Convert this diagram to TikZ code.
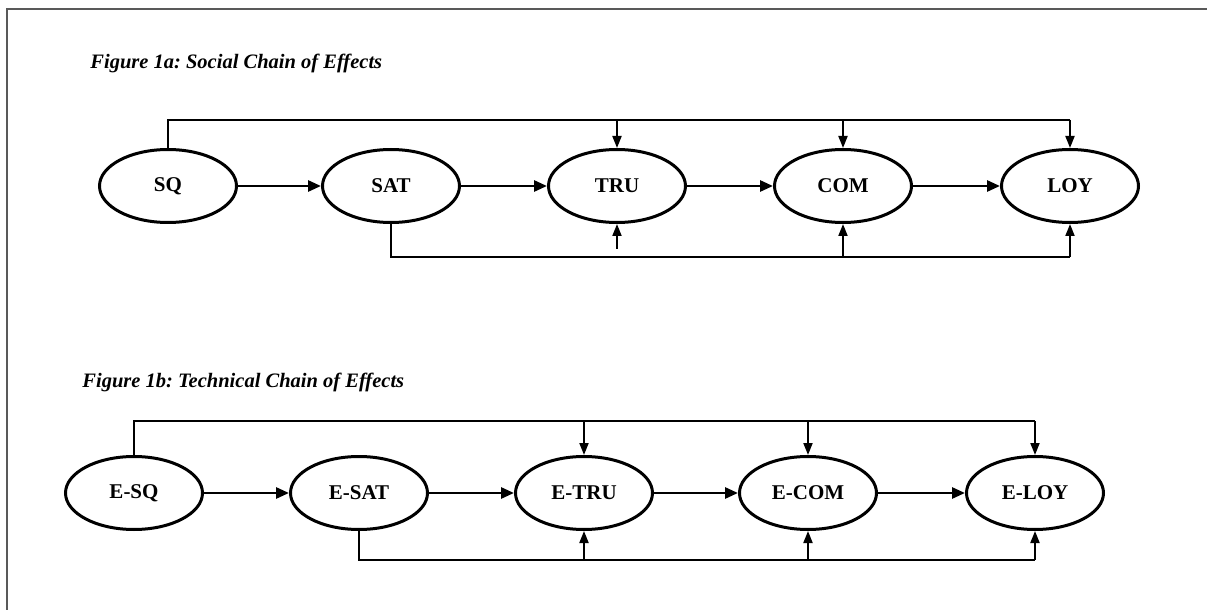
\documentclass[tikz,border=0pt]{standalone}
\usepackage{fontspec}
\setmainfont{Liberation Serif}
\usetikzlibrary{arrows.meta,shapes.geometric}
\frenchspacing
\begin{document}
\begin{tikzpicture}[x=0.5pt,y=-0.5pt,
  ell/.style={draw,ellipse,line width=1.5pt,minimum width=68.5pt,minimum height=36.5pt,inner sep=0pt,
    font=\bfseries\fontsize{10.5}{12}\selectfont},
  mainarrow/.style={line width=1.4pt,-{Triangle[length=6.5pt,width=5.5pt]}},
  fbline/.style={line width=0.9pt},
  fbarrow/.style={line width=0.9pt,-{Triangle[length=6pt,width=4.5pt]}},
  ttl/.style={anchor=base west,inner sep=0pt,font=\bfseries\itshape\fontsize{10.25}{12}\selectfont},
  frame/.style={draw=black!65,line width=1pt}]
\useasboundingbox (0,0) rectangle (1207,610);
% frame
\draw[frame] (7,610) -- (7,9) -- (1207,9);
% titles
\node[ttl] (t1) at (90,69) {Figure 1a: Social Chain of Effects};
\node[ttl] (t2) at (82,387) {Figure 1b: Technical Chain of Effects};
% row 1
\node[ell] (sq)  at (168,186)  {SQ};
\node[ell] (sat) at (391,186)  {SAT};
\node[ell] (tru) at (617,186)  {TRU};
\node[ell] (com) at (843,186)  {COM};
\node[ell] (loy) at (1070,186) {LOY};
\draw[mainarrow] (sq) -- (sat);
\draw[mainarrow] (sat) -- (tru);
\draw[mainarrow] (tru) -- (com);
\draw[mainarrow] (com) -- (loy);
\coordinate (T1) at (0,120);
\coordinate (B1) at (0,257);
\coordinate (G1) at (0,249);
\draw[fbline] (sq.north) -- (sq.north |- T1) -- (loy.north |- T1);
\draw[fbarrow] (tru.north |- T1) -- (tru.north);
\draw[fbarrow] (com.north |- T1) -- (com.north);
\draw[fbarrow] (loy.north |- T1) -- (loy.north);
\draw[fbline] (sat.south) -- (sat.south |- B1) -- (loy.south |- B1);
\draw[fbarrow] (tru.south |- G1) -- (tru.south);
\draw[fbarrow] (com.south |- B1) -- (com.south);
\draw[fbarrow] (loy.south |- B1) -- (loy.south);
% row 2
\node[ell] (esq)  at (134,493)  {E-SQ};
\node[ell] (esat) at (359,493)  {E-SAT};
\node[ell] (etru) at (584,493)  {E-TRU};
\node[ell] (ecom) at (808,493)  {E-COM};
\node[ell] (eloy) at (1035,493) {E-LOY};
\draw[mainarrow] (esq) -- (esat);
\draw[mainarrow] (esat) -- (etru);
\draw[mainarrow] (etru) -- (ecom);
\draw[mainarrow] (ecom) -- (eloy);
\coordinate (T2) at (0,421);
\coordinate (B2) at (0,560);
\draw[fbline] (esq.north) -- (esq.north |- T2) -- (eloy.north |- T2);
\draw[fbarrow] (etru.north |- T2) -- (etru.north);
\draw[fbarrow] (ecom.north |- T2) -- (ecom.north);
\draw[fbarrow] (eloy.north |- T2) -- (eloy.north);
\draw[fbline] (esat.south) -- (esat.south |- B2) -- (eloy.south |- B2);
\draw[fbarrow] (etru.south |- B2) -- (etru.south);
\draw[fbarrow] (ecom.south |- B2) -- (ecom.south);
\draw[fbarrow] (eloy.south |- B2) -- (eloy.south);
\end{tikzpicture}
\end{document}
